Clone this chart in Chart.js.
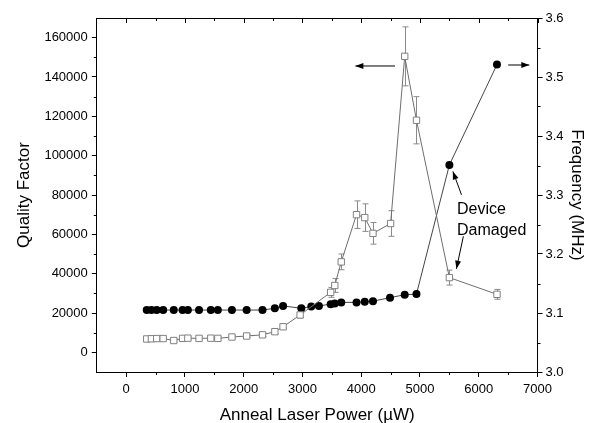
<!DOCTYPE html>
<html>
<head>
<meta charset="utf-8">
<script src="https://cdn.jsdelivr.net/npm/chart.js@4"></script>
<style>
  html, body { margin: 0; padding: 0; background: #fff; }
  #wrap { width: 593px; height: 423px; }
</style>
</head>
<body>
<div id="wrap"><canvas id="annealChart"></canvas></div>
<script>
// Quality factor (open squares, left axis)
const qPower = [350, 430, 520, 630, 810, 960, 1050, 1240, 1440, 1560, 1800, 2050, 2320, 2530, 2670, 2960, 3480, 3550, 3660, 3920, 4060, 4200, 4500, 4740, 4940, 5500, 6310];
const qValues = [6800, 6900, 7000, 7000, 6000, 7100, 7200, 7100, 7200, 7100, 7800, 8300, 8900, 10500, 13000, 19000, 30500, 34000, 46000, 70000, 68500, 60500, 65500, 150500, 118000, 38000, 29500];
const qErrors = [800, 800, 800, 800, 800, 800, 800, 800, 800, 800, 800, 900, 900, 1000, 1200, 1500, 2500, 3500, 4000, 7000, 7000, 5500, 6500, 15000, 12000, 3800, 2500];

// Frequency (filled circles, right axis)
const fPower = [350, 430, 520, 630, 810, 960, 1050, 1240, 1440, 1560, 1800, 2050, 2320, 2530, 2670, 2980, 3150, 3280, 3480, 3550, 3660, 3920, 4060, 4200, 4490, 4740, 4940, 5500, 6310];
const fValues = [3.105, 3.105, 3.105, 3.105, 3.105, 3.105, 3.105, 3.105, 3.105, 3.105, 3.105, 3.105, 3.105, 3.108, 3.112, 3.108, 3.111, 3.112, 3.115, 3.116, 3.118, 3.118, 3.119, 3.120, 3.126, 3.131, 3.132, 3.351, 3.521];

// tick labels
const xTicks = [0, 1000, 2000, 3000, 4000, 5000, 6000, 7000];
const qTicks = [0, 20000, 40000, 60000, 80000, 100000, 120000, 140000, 160000];
const fTicks = [3.0, 3.1, 3.2, 3.3, 3.4, 3.5, 3.6];
const xMinor = [500, 1500, 2500, 3500, 4500, 5500, 6500];
const qMinor = [10000, 30000, 50000, 70000, 90000, 110000, 130000, 150000];
const fMinor = [3.05, 3.15, 3.25, 3.35, 3.45, 3.55];

const FONT = "'Liberation Sans', Arial, sans-serif";

// error bars, drawn under the markers
const errorBars = {
    id: 'errorBars',
    beforeDatasetsDraw(chart) {
        const ctx = chart.ctx;
        const x = chart.scales.x, y = chart.scales.yQ;
        ctx.save();
        ctx.strokeStyle = '#8a8a8a';
        ctx.lineWidth = 1;
        qPower.forEach((p, i) => {
            const px = Math.round(x.getPixelForValue(p)) + 0.5;
            const top = y.getPixelForValue(qValues[i] + qErrors[i]);
            const bot = y.getPixelForValue(qValues[i] - qErrors[i]);
            ctx.beginPath();
            ctx.moveTo(px, top); ctx.lineTo(px, bot);
            ctx.moveTo(px - 3, top); ctx.lineTo(px + 3, top);
            ctx.moveTo(px - 3, bot); ctx.lineTo(px + 3, bot);
            ctx.stroke();
        });
        ctx.restore();
    }
};

function arrow(ctx, x1, y1, x2, y2) {
    const a = Math.atan2(y2 - y1, x2 - x1);
    ctx.beginPath();
    ctx.moveTo(x1, y1); ctx.lineTo(x2, y2);
    ctx.stroke();
    ctx.beginPath();
    ctx.moveTo(x2, y2);
    ctx.lineTo(x2 - 8 * Math.cos(a) + 3 * Math.sin(a), y2 - 8 * Math.sin(a) - 3 * Math.cos(a));
    ctx.lineTo(x2 - 8 * Math.cos(a) - 3 * Math.sin(a), y2 - 8 * Math.sin(a) + 3 * Math.cos(a));
    ctx.closePath();
    ctx.fill();
}

// frame, minor ticks, top ticks, annotations
const extras = {
    id: 'extras',
    afterDraw(chart) {
        const ctx = chart.ctx;
        const area = chart.chartArea;
        const x = chart.scales.x, yQ = chart.scales.yQ, yF = chart.scales.yF;
        ctx.save();
        ctx.strokeStyle = '#000';
        ctx.fillStyle = '#000';
        ctx.lineWidth = 1;
        ctx.beginPath();
        ctx.moveTo(area.left, area.top + 0.5); ctx.lineTo(area.right, area.top + 0.5);
        xTicks.forEach(v => {
            const px = Math.round(x.getPixelForValue(v)) + 0.5;
            ctx.moveTo(px, area.top); ctx.lineTo(px, area.top + 5);
        });
        xMinor.forEach(v => {
            const px = Math.round(x.getPixelForValue(v)) + 0.5;
            ctx.moveTo(px, area.top); ctx.lineTo(px, area.top + 3);
            ctx.moveTo(px, area.bottom); ctx.lineTo(px, area.bottom + 3);
        });
        qMinor.forEach(v => {
            const py = Math.round(yQ.getPixelForValue(v)) + 0.5;
            ctx.moveTo(area.left - 3, py); ctx.lineTo(area.left, py);
        });
        fMinor.forEach(v => {
            const py = Math.round(yF.getPixelForValue(v)) + 0.5;
            ctx.moveTo(area.right, py); ctx.lineTo(area.right + 3, py);
        });
        ctx.stroke();

        // arrows pointing to each series' axis
        arrow(ctx, x.getPixelForValue(4575), yQ.getPixelForValue(145600), x.getPixelForValue(3900), yQ.getPixelForValue(145600));
        arrow(ctx, x.getPixelForValue(6500), yQ.getPixelForValue(146100), x.getPixelForValue(6860), yQ.getPixelForValue(146100));
        arrow(ctx, x.getPixelForValue(5706), yQ.getPixelForValue(80100), x.getPixelForValue(5560), yQ.getPixelForValue(92000));
        arrow(ctx, x.getPixelForValue(5738), yQ.getPixelForValue(59000), x.getPixelForValue(5620), yQ.getPixelForValue(42500));

        ctx.font = '16px ' + FONT;
        ctx.textBaseline = 'middle';
        ctx.textAlign = 'left';
        ctx.fillText('Device', x.getPixelForValue(5630), yQ.getPixelForValue(72700));
        ctx.fillText('Damaged', x.getPixelForValue(5630), yQ.getPixelForValue(61800));
        ctx.restore();
    }
};

const ctx = document.getElementById('annealChart').getContext('2d');
new Chart(ctx, {
    type: 'line',
    data: {
        datasets: [
            {
                label: 'Quality Factor',
                data: qPower.map((p, i) => ({ x: p, y: qValues[i] })),
                yAxisID: 'yQ',
                borderColor: '#6e6e6e',
                borderWidth: 1,
                pointStyle: 'rect',
                pointRadius: 4.5,
                pointBackgroundColor: '#fff',
                pointBorderColor: '#808080',
                pointBorderWidth: 1,
                tension: 0
            },
            {
                label: 'Frequency',
                data: fPower.map((p, i) => ({ x: p, y: fValues[i] })),
                yAxisID: 'yF',
                borderColor: '#444',
                borderWidth: 1,
                pointStyle: 'circle',
                pointRadius: 4,
                pointBackgroundColor: '#000',
                pointBorderColor: '#000',
                pointBorderWidth: 0,
                tension: 0
            }
        ]
    },
    options: {
        responsive: true,
        maintainAspectRatio: false,
        animation: false,
        events: [],
        layout: { padding: { left: 14, right: 3, top: 18, bottom: 0 } },
        plugins: { legend: { display: false }, tooltip: { enabled: false } },
        scales: {
            x: {
                type: 'linear',
                position: 'bottom',
                min: -500,
                max: 7000,
                afterBuildTicks: s => { s.ticks = xTicks.map(v => ({ value: v })); },
                ticks: { color: '#000', font: { family: FONT, size: 13 }, padding: 5, maxRotation: 0, callback: v => String(v) },
                grid: { drawOnChartArea: false, color: '#000', tickLength: 5 },
                border: { color: '#000', width: 1 },
                title: { display: true, text: 'Anneal Laser Power (\u00b5W)', color: '#000', font: { family: FONT, size: 17 }, padding: { top: 3, bottom: -3 } }
            },
            yQ: {
                type: 'linear',
                position: 'left',
                min: -10000,
                max: 170000,
                afterBuildTicks: s => { s.ticks = qTicks.map(v => ({ value: v })); },
                ticks: { color: '#000', font: { family: FONT, size: 13 }, padding: 4, callback: v => String(v) },
                grid: { drawOnChartArea: false, color: '#000', tickLength: 5 },
                border: { color: '#000', width: 1 },
                title: { display: true, text: 'Quality Factor', color: '#000', font: { family: FONT, size: 17 }, padding: { top: 0, bottom: 6 } }
            },
            yF: {
                type: 'linear',
                position: 'right',
                min: 3.0,
                max: 3.6,
                afterBuildTicks: s => { s.ticks = fTicks.map(v => ({ value: v })); },
                ticks: { color: '#000', font: { family: FONT, size: 13 }, padding: 3, callback: v => v.toFixed(1) },
                grid: { drawOnChartArea: false, color: '#000', tickLength: 5 },
                border: { color: '#000', width: 1 },
                title: { display: true, text: 'Frequency (MHz)', color: '#000', font: { family: FONT, size: 17 }, padding: { top: 3, bottom: 0 } }
            }
        }
    },
    plugins: [errorBars, extras]
});
</script>
</body>
</html>
